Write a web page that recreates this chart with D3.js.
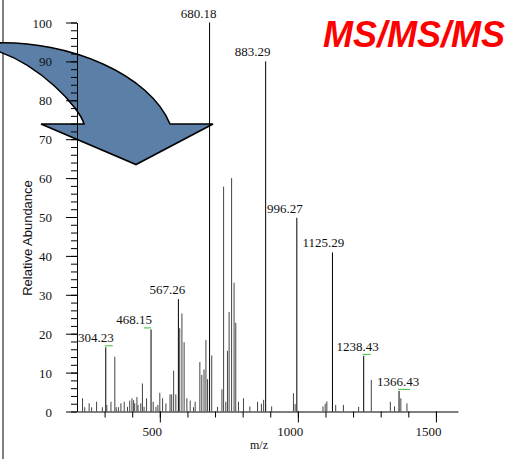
<!DOCTYPE html>
<html>
<head>
<meta charset="utf-8">
<script src="https://cdn.jsdelivr.net/npm/d3@7"></script>
<style>
  body { margin: 0; background: #fff; }
  svg { display: block; }
</style>
</head>
<body>
<svg id="chart" width="507" height="459"></svg>
<script>
// peaks (m/z, relative abundance)
var peakMz = [
  220, 228, 244, 253, 271, 292, 304.23, 308, 323, 337, 342, 350, 359, 371, 383, 391,
  399, 405, 409, 417, 421, 431, 437, 443, 452, 468.15, 476, 486, 493, 500, 510, 522,
  537, 543, 550, 558, 567.26, 572, 580, 588, 598, 610, 622, 628, 645, 652, 660, 667,
  673, 680.18, 688, 709, 725, 731, 739, 745, 751, 760, 769, 775, 785, 803, 826, 854,
  868, 876, 883.29, 905, 984, 990, 996.27, 1091, 1099, 1105, 1125.29, 1137, 1165,
  1220, 1238.43, 1266, 1335, 1350, 1366.43, 1373, 1395
];
var peakAbund = [
  3.4, 1.1, 2.1, 1.1, 2.5, 1.1, 16.5, 1.7, 2.5, 14.1, 1.1, 1.1, 2.1, 2.5, 1.2, 2.8,
  3.4, 2.9, 2.1, 3.7, 1.7, 2.1, 7.2, 1.2, 3.4, 21.1, 2.5, 1.2, 1.7, 4.8, 3.4, 2.1,
  4.4, 4.4, 10.5, 4.4, 28.9, 21.4, 25.2, 17.8, 3.4, 2.8, 1.1, 2.5, 12.7, 9.4, 10.8, 18.4,
  8.3, 100, 14.4, 1.2, 5.7, 57.8, 2.5, 15.6, 25.6, 60, 33.1, 22.8, 2.5, 3.4, 1.3, 2.5,
  2, 3, 90, 1.3, 4.7, 1.9, 49.8, 1.3, 2, 2.6, 40.9, 1.7, 1.7,
  1.2, 14.3, 8.1, 2.5, 1.3, 5.3, 3.4, 2.1
];
var labelMz = [304.23, 468.15, 567.26, 680.18, 883.29, 996.27, 1125.29, 1238.43, 1366.43];
var markedMz = [304.23, 468.15, 1238.43, 1366.43];
var xMajorTicks = [500, 1000, 1500];
var xMinorTicks = [300, 400, 500, 600, 700, 800, 900, 1000, 1100, 1200, 1300, 1400, 1500];
var yMajorTicks = [0, 10, 20, 30, 40, 50, 60, 70, 80, 90, 100];

var serif = "'Liberation Serif', 'Times New Roman', serif";
var sans = "'Liberation Sans', Arial, sans-serif";

var svg = d3.select("#chart");

// slide frame line on the left
svg.append("line")
  .attr("x1", 3).attr("x2", 3).attr("y1", 0).attr("y2", 459)
  .attr("stroke", "#000").attr("stroke-width", 1);

// big curved arrow, sits under the spectrum
svg.append("path")
  .attr("d", "M-6,43 C70,40 150,75 170,124 L213,124 L136,164.5 L41,124 L84,124 C80,108 40,64 -6,50 Z")
  .attr("fill", "#5b7fa7")
  .attr("stroke", "#000")
  .attr("stroke-width", 1.6)
  .attr("stroke-linejoin", "miter");

var x = d3.scaleLinear().domain([200, 1580]).range([77, 458]);
var y = d3.scaleLinear().domain([0, 100]).range([411.5, 22.5]);

var g = svg.append("g");

// y axis: minor ticks every 2, major every 10
g.append("g")
  .attr("transform", "translate(77,0)")
  .call(d3.axisLeft(y).tickValues(d3.range(0, 101, 2)).tickSize(6).tickFormat(""))
  .call(a => a.select(".domain").remove());
var yAx = g.append("g")
  .attr("transform", "translate(77,0)")
  .call(d3.axisLeft(y).tickValues(yMajorTicks).tickSize(11).tickSizeOuter(0).tickFormat(d3.format("d")));
yAx.selectAll("text")
  .attr("x", -25)
  .attr("dy", "0.35em")
  .style("font-family", serif)
  .style("font-size", "13px")
  .attr("fill", "#111");

// x axis
g.append("g")
  .attr("transform", "translate(0,411.5)")
  .call(d3.axisBottom(x).tickValues(xMinorTicks).tickSize(6).tickFormat(""))
  .call(a => a.select(".domain").remove());
var xAx = g.append("g")
  .attr("transform", "translate(0,411.5)")
  .call(d3.axisBottom(x).tickValues(xMajorTicks).tickSize(11).tickSizeOuter(0).tickFormat(d3.format("d")));
xAx.selectAll("text")
  .attr("y", 24)
  .attr("dy", 0)
  .attr("dx", -8)
  .style("font-family", serif)
  .style("font-size", "13px")
  .attr("fill", "#111");
g.selectAll(".domain").attr("stroke-width", 1);

// peaks
g.selectAll(".peak")
  .data(peakMz)
  .join("line")
  .attr("class", "peak")
  .attr("x1", d => x(d)).attr("x2", d => x(d))
  .attr("y1", y(0))
  .attr("y2", (d, i) => y(peakAbund[i]))
  .attr("stroke", d => labelMz.includes(d) ? "#000" : "#444")
  .attr("stroke-width", 1);

// small green markers on some labelled peaks
var markSpan = {304.23: [-1, 7], 468.15: [-7, 0], 1238.43: [-1, 7], 1366.43: [-1, 11]};
g.selectAll(".mark")
  .data(markedMz)
  .join("line")
  .attr("class", "mark")
  .attr("x1", d => x(d) + markSpan[d][0])
  .attr("x2", d => x(d) + markSpan[d][1])
  .attr("y1", d => y(peakAbund[peakMz.indexOf(d)]) - 1.5)
  .attr("y2", d => y(peakAbund[peakMz.indexOf(d)]) - 1.5)
  .attr("stroke", "#33c033")
  .attr("stroke-width", 1);

// peak labels (nudged left like the instrument export)
var labelNudge = {304.23: -10, 468.15: -17, 567.26: -11, 680.18: -11, 883.29: -13,
  996.27: -12, 1125.29: -9, 1238.43: -6, 1366.43: -1};
g.selectAll(".plabel")
  .data(labelMz)
  .join("text")
  .attr("class", "plabel")
  .attr("x", d => x(d) + labelNudge[d])
  .attr("y", d => y(peakAbund[peakMz.indexOf(d)]) - 5)
  .attr("text-anchor", "middle")
  .style("font-family", serif)
  .style("font-size", "13px")
  .attr("fill", "#111")
  .text(d => d.toFixed(2));

// axis titles
svg.append("text")
  .attr("x", 259).attr("y", 449)
  .attr("text-anchor", "middle")
  .style("font-family", serif)
  .style("font-size", "12px")
  .attr("fill", "#111")
  .text("m/z");

svg.append("text")
  .attr("transform", "translate(32,238) rotate(-90)")
  .attr("text-anchor", "middle")
  .style("font-family", sans)
  .style("font-size", "13px")
  .attr("fill", "#111")
  .text("Relative Abundance");

// title
svg.append("text")
  .attr("x", 505).attr("y", 47)
  .attr("text-anchor", "end")
  .style("font-family", sans)
  .style("font-size", "36px")
  .style("font-weight", "bold")
  .style("font-style", "italic")
  .attr("fill", "#ff0000")
  .text("MS/MS/MS");
</script>
</body>
</html>
